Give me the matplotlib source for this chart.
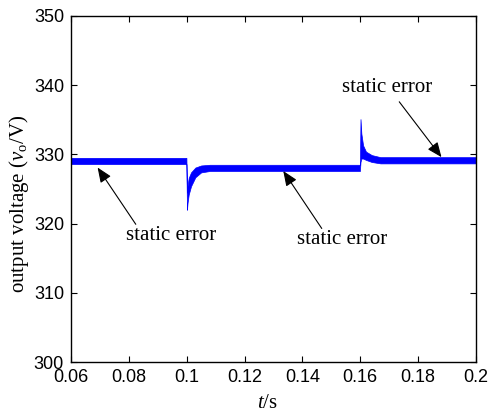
import matplotlib
matplotlib.use("Agg")
import matplotlib.pyplot as plt

plt.rcParams["font.family"] = ["Liberation Sans", "DejaVu Sans"]
plt.rcParams["mathtext.fontset"] = "custom"
plt.rcParams["mathtext.rm"] = "Liberation Serif"
plt.rcParams["mathtext.it"] = "Liberation Serif:italic"

# envelope of the rippled output voltage
t = [0.06, 0.0999, 0.1001, 0.1003, 0.1007, 0.1015, 0.103, 0.105, 0.108,
     0.1599, 0.1601, 0.1604, 0.1610, 0.162, 0.164, 0.167, 0.2]
v_upper = [329.5, 329.5, 324.5, 325.5, 326.6, 327.4, 328.1, 328.4, 328.5,
           328.5, 335.1, 333.0, 331.3, 330.4, 329.9, 329.6, 329.6]
v_lower = [328.6, 328.6, 322.0, 323.0, 324.2, 325.4, 326.7, 327.4, 327.6,
           327.6, 328.9, 329.4, 329.4, 329.2, 328.9, 328.7, 328.7]

x_ticks = [0.06, 0.08, 0.1, 0.12, 0.14, 0.16, 0.18, 0.2]
x_labels = ["0.06", "0.08", "0.1", "0.12", "0.14", "0.16", "0.18", "0.2"]
y_ticks = [300, 310, 320, 330, 340, 350]

# text centre, arrow tail, arrow tip (data units)
note_text = [(0.0947, 318.35), (0.1537, 317.7), (0.1694, 339.7)]
note_tail = [(0.0824, 319.9), (0.1467, 319.3), (0.1735, 337.6)]
note_tip = [(0.0692, 328.1), (0.1334, 327.6), (0.1881, 329.6)]

fig = plt.figure(figsize=(4.89, 4.20), dpi=100)
ax = fig.add_axes([0.1452, 0.138, 0.828, 0.824])

ax.fill_between(t, v_lower, v_upper, color="#0000ff", linewidth=0.5,
                edgecolor="#0000ff")

for (tx, ty), tail, tip in zip(note_text, note_tail, note_tip):
    ax.text(tx, ty, "static error", fontfamily="Liberation Serif",
            fontsize=15, ha="center", va="center")
    ax.annotate("", xy=tip, xytext=tail,
                arrowprops=dict(arrowstyle="-|>,head_length=0.6,head_width=0.25",
                                color="black", lw=0.8, shrinkA=0, shrinkB=0,
                                mutation_scale=15))

ax.set_xlim(0.06, 0.2)
ax.set_ylim(300, 350)
ax.set_xticks(x_ticks)
ax.set_xticklabels(x_labels)
ax.set_yticks(y_ticks)
ax.tick_params(direction="in", top=True, right=True, length=4, width=0.8,
               labelsize=13, pad=5)
for s in ax.spines.values():
    s.set_linewidth(1.0)

ax.set_ylabel(r"output voltage ($v_{\mathrm{o}}$/V)",
              fontfamily="Liberation Serif", fontsize=15)
ax.yaxis.set_label_coords(-0.10, 0.457)
ax.set_xlabel(r"$t$/s", fontfamily="Liberation Serif", fontsize=15)
ax.xaxis.set_label_coords(0.486, -0.093)

fig.savefig("out.png", dpi=100)
